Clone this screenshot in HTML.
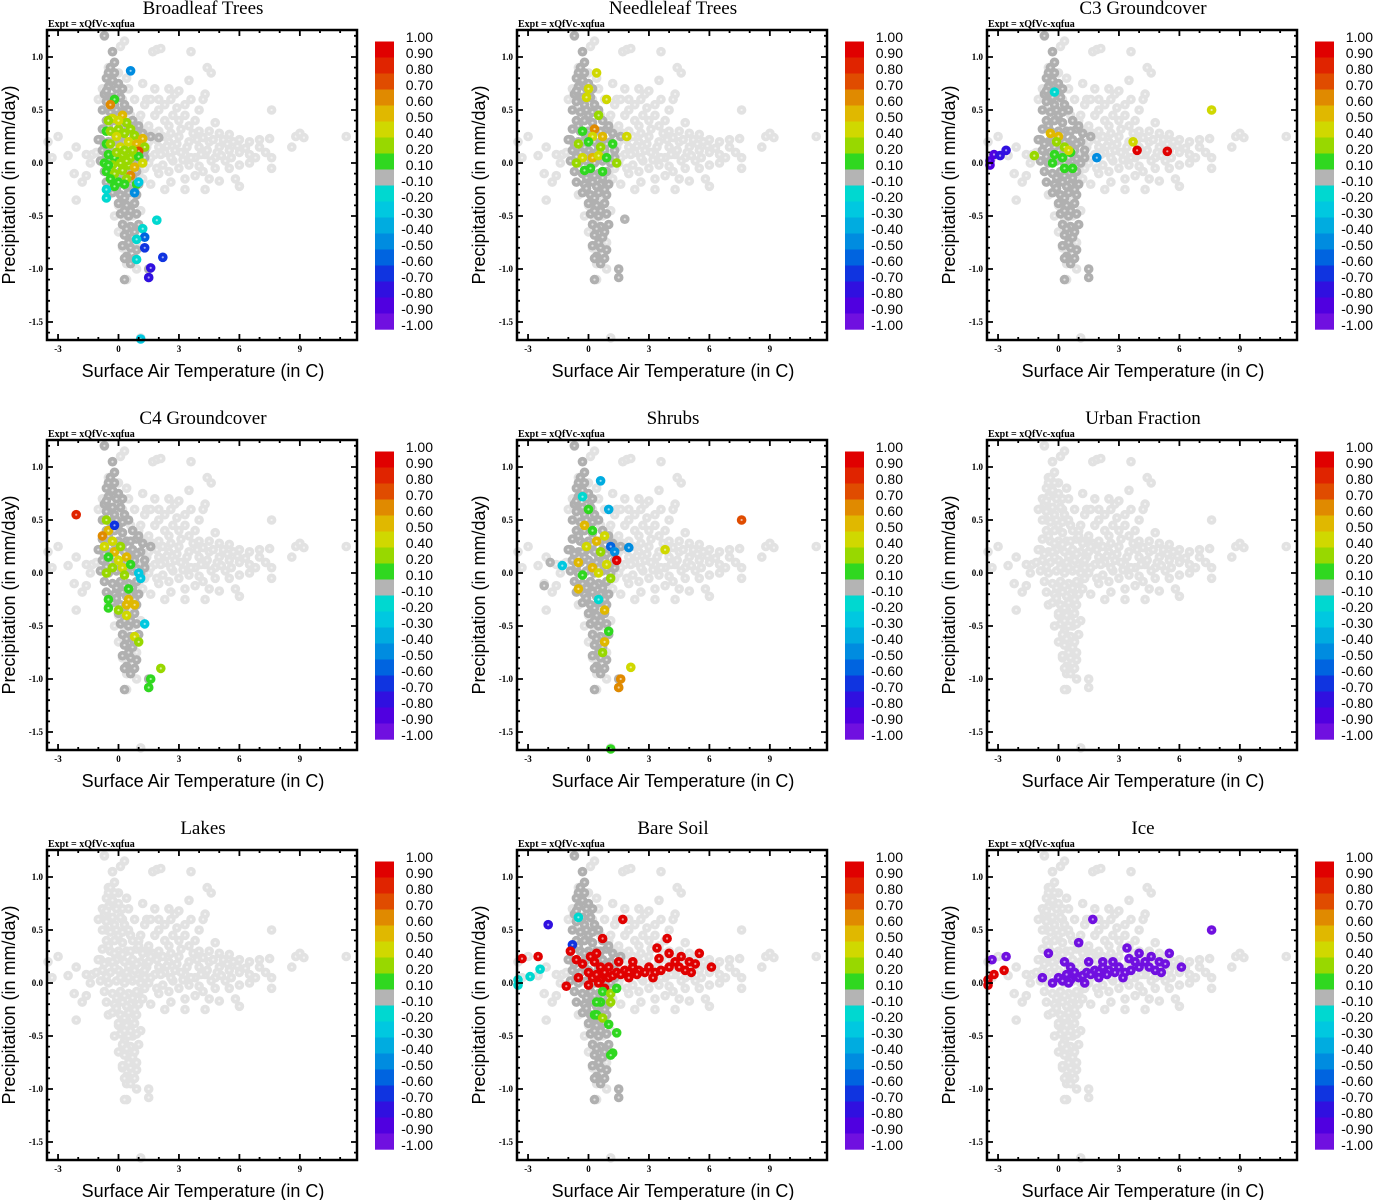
<!DOCTYPE html>
<html><head><meta charset="utf-8">
<style>
html,body{margin:0;padding:0;background:#fff;}
svg{display:block;}
.ttl{font-family:"Liberation Serif",serif;font-size:19px;}
.expt{font-family:"Liberation Serif",serif;font-size:10px;font-weight:bold;}
.tk{font-family:"Liberation Serif",serif;font-size:9px;font-weight:bold;}
.ax{font-family:"Liberation Sans",sans-serif;font-size:18px;}
.cb{font-family:"Liberation Sans",sans-serif;font-size:14px;}
</style></head>
<body>
<svg id="fig" width="1373" height="1200" viewBox="0 0 1373 1200" xmlns="http://www.w3.org/2000/svg"></svg>
<script>
// ---- data ----
const panelTitles = ["Broadleaf Trees","Needleleaf Trees","C3 Groundcover","C4 Groundcover","Shrubs","Urban Fraction","Lakes","Bare Soil","Ice"];
const columnDark = [1,1,1,1,1,0,0,1,0];
const xTicks = [-3,0,3,6,9];
const yTicks = [1.0,0.5,0.0,-0.5,-1.0,-1.5];
const yTickLabels = ["1.0","0.5","0.0","-0.5","-1.0","-1.5"];
const cbLabels = ["1.00","0.90","0.80","0.70","0.60","0.50","0.40","0.20","0.10","-0.10","-0.20","-0.30","-0.40","-0.50","-0.60","-0.70","-0.80","-0.90","-1.00"];
const cbEdges = [1,0.9,0.8,0.7,0.6,0.5,0.4,0.2,0.1,-0.1,-0.2,-0.3,-0.4,-0.5,-0.6,-0.7,-0.8,-0.9,-1.0];
const cbColors = ["#e00000","#e02400","#e04c00","#e08a00","#e0b800","#d0d800","#98d800","#30d820","#b4b4b4","#00d8d0","#00c8e0","#00ace0","#008ce0","#0064e0","#1034e0","#3010e0","#5000e0","#7010e0"];
// light background cloud [T,P]
const cloudPts = [[-0.7,1.2],[-0.3,1.05],[0.1,1.1],[0.3,1.15],[-0.5,0.9],[0,0.85],[0.4,0.8],[-0.8,0.7],[-0.2,0.75],[0.5,0.7],[-1,0.6],[0.2,0.6],[0.8,0.6],[-0.6,0.5],[0.6,0.45],
[1.7,1.05],[1.9,1.07],[2.1,1.08],[3.6,1.05],[4.4,0.9],[4.6,0.85],[3.5,0.78],[2.5,0.7],[2.8,0.65],[3.0,0.68],[4.3,0.65],[4.2,0.6],[1.4,0.6],[1.6,0.6],[2.0,0.6],[2.3,0.55],[2.6,0.6],[3.3,0.55],[4.0,0.5],[7.6,0.5],
[1,0.4],[1.5,0.35],[2,0.3],[2.5,0.35],[3,0.4],[3.5,0.35],[4,0.3],[4.5,0.3],[5,0.28],[5.5,0.27],[6,0.22],[6.5,0.2],[7,0.22],[7.5,0.23],[8.8,0.25],[9,0.28],[9.2,0.24],[8.6,0.15],[7.6,0.05],[7.6,-0.05],
[1.5,0.2],[2,0.15],[2.5,0.2],[3,0.25],[3.5,0.2],[4,0.15],[4.5,0.2],[5,0.15],[5.5,0.12],[6,0.1],[6.5,0.08],[1.2,0.1],[1.8,0.08],[2.3,0.1],[2.8,0.12],[3.3,0.08],[3.8,0.05],[4.3,0.08],[4.8,0.05],[5.3,0.02],[6,-0.02],[6.5,0.0],[1.5,0],[2.2,-0.02],[2.7,0.02],[3.2,0.03],[4,-0.03],
[1.2,-0.15],[2,-0.1],[2.6,-0.18],[3.3,-0.15],[3.8,-0.12],[4.5,-0.15],[5,-0.17],[5.8,-0.15],[4.3,-0.25],[3.3,-0.25],[6,-0.22],
[-3.5,0.2],[-3,0.25],[-2.5,0.07],[-3.3,0.05],[-2.1,0.15],[-1.6,0.08],[-1.3,0.08],[-1.1,0.1],[-2.2,-0.1],[-1.8,-0.18],[-1.6,-0.12],[-2.1,-0.35],[-1.4,0.0],
[-0.5,-0.3],[0,-0.4],[0.4,-0.35],[0.8,-0.3],[-0.2,-0.5],[0.3,-0.55],[0.7,-0.5],[1.1,-0.45],[0,-0.65],[0.5,-0.7],[0.9,-0.75],[0.2,-0.8],[0.7,-0.85],[0.4,-0.95],[0.9,-1.0],[0.4,-1.1],[1.1,-1.65],[11.3,0.25]];
// dense arm fill [T,P]
const armPts = [[1.3,0.3],[1.7,0.28],[2.2,0.25],[2.6,0.28],[3.1,0.32],[3.7,0.28],[4.2,0.24],[4.7,0.22],[5.2,0.22],[5.7,0.2],[1.4,0.15],[1.9,0.22],[2.4,0.16],[2.9,0.18],[3.4,0.15],[3.9,0.22],[4.4,0.12],[4.9,0.1],[5.4,0.18],[5.9,0.16],[6.3,0.14],[1.6,0.05],[2.1,0.08],[2.6,0.05],[3.1,0.1],[3.6,0.05],[4.1,0.08],[4.6,0.02],[5.1,0.07],[5.6,0.05],[1.3,-0.05],[1.9,-0.05],[2.5,-0.08],[3.0,-0.05],[3.5,-0.02],[4.2,-0.08],[4.8,-0.05],[5.5,-0.05],[7.0,0.15],[7.3,0.1],[6.8,0.05],[1.1,0.45],[1.8,0.45],[2.7,0.45],[3.3,0.45],[3.8,0.4],[4.8,0.38],[2.3,0.4],[1.0,-0.1],[1.6,-0.2],[2.3,-0.25],[2.0,0.5],[1.3,0.55],[2.9,0.52],[3.6,0.6],[1.8,0.7],[1.2,0.75]];
// dense column [T,P]
const columnPts = [[-0.4,0.9],[-0.5,0.85],[-0.2,0.85],[-0.6,0.8],[-0.3,0.78],[0,0.75],[-0.5,0.72],[-0.1,0.7],[-0.7,0.65],[-0.3,0.62],[0.1,0.62],[-0.6,0.58],[-0.2,0.55],[0.3,0.55],[-0.8,0.5],[-0.4,0.48],[0,0.45],[0.5,0.5],[-0.6,0.4],[-0.2,0.4],[0.2,0.38],[0.7,0.4],[-0.8,0.32],[-0.4,0.3],[0,0.3],[0.4,0.3],[0.9,0.32],[-0.9,0.22],[-0.5,0.2],[-0.1,0.22],[0.3,0.2],[0.7,0.22],[1.1,0.2],[-0.8,0.12],[-0.4,0.1],[0,0.12],[0.4,0.1],[0.8,0.12],[1.3,0.12],[-0.9,0.02],[-0.5,0.0],[-0.1,0.02],[0.3,0.0],[0.7,0.02],[1.1,0.0],[-0.7,-0.08],[-0.3,-0.1],[0.1,-0.08],[0.5,-0.1],[0.9,-0.08],[-0.6,-0.18],[-0.2,-0.2],[0.2,-0.18],[0.6,-0.2],[1.0,-0.2],[-0.3,-0.28],[0.1,-0.3],[0.5,-0.28],[0.9,-0.3],[0,-0.38],[0.4,-0.4],[0.8,-0.38],[0.1,-0.48],[0.5,-0.5],[0.9,-0.48],[0.2,-0.58],[0.6,-0.6],[1.0,-0.58],[0.3,-0.68],[0.7,-0.7],[0.2,-0.78],[0.6,-0.8],[0.9,-0.82],[0.4,-0.88],[0.8,-0.9],[1.5,-1.0],[1.5,-1.08],[0.3,-1.1],[-1,0.22],[1.6,0.25],[1.0,0.35],[-0.7,1.2],[-0.3,1.05],
[-0.6,0.68],[-0.1,0.5],[0.2,0.48],[-0.5,0.35],[0.6,0.3],[-0.2,0.28],[0.2,0.27],[-0.7,0.18],[0.5,0.16],[0.9,0.18],[-0.2,0.15],[0.1,0.05],[-0.6,0.06],[0.5,0.05],[0.9,0.04],[-0.1,-0.14],[0.3,-0.12],[0.7,-0.14],[-0.1,-0.24],[0.4,-0.22],[0.8,-0.25],[0.3,-0.33],[0.6,-0.45],[0.3,-0.45],[0.4,-0.62],[0.8,-0.65],[0.5,-0.75],[0.3,-0.9],[0.6,-0.95],[-0.2,0.95],[0.2,0.7],[1.2,0.28],[1.3,0.05],[-0.3,0.2]];
// per-panel coloured points [T,P,value]
const broadleafPts = [[0.6,0.87,-0.5],[-0.2,0.6,0.15],[-0.4,0.55,0.6],[-0.6,0.3,0.15],[-0.6,0.18,0.15],[-0.3,0.42,0.4],[0.2,0.45,0.5],[0.4,0.38,0.3],[0,0.32,0.35],[-0.4,0.3,0.3],[0.3,0.28,0.2],[0.8,0.26,0.35],[1.2,0.23,0.5],[0.1,0.15,0.4],[0.5,0.2,0.45],[0.9,0.18,0.55],[1.3,0.15,0.3],[1.0,0.11,0.7],[-0.5,0.08,0.15],[-0.2,0.05,0.15],[0.2,0.08,0.25],[0.6,0.05,0.2],[1.0,0.06,0.15],[1.2,0.0,0.4],[-0.7,0.0,0.15],[-0.3,-0.02,0.2],[0.1,0.0,0.3],[0.5,-0.02,0.25],[0.8,-0.04,0.5],[-0.6,-0.08,0.15],[-0.2,-0.1,0.2],[0.2,-0.07,0.3],[0.6,-0.12,0.6],[-0.4,-0.15,0.15],[0,-0.18,0.15],[-0.2,-0.22,0.15],[0.4,-0.15,0.2],[0.9,-0.2,0.15],[1.0,-0.18,-0.3],[0.8,-0.28,-0.5],[-0.6,-0.25,-0.2],[-0.6,-0.33,-0.2],[1.9,-0.54,-0.2],[1.2,-0.62,-0.2],[1.3,-0.7,-0.6],[1.3,-0.8,-0.7],[0.9,-0.72,-0.2],[0.9,-0.91,-0.2],[2.2,-0.89,-0.7],[1.6,-0.99,-0.8],[1.5,-1.08,-0.8],[1.1,-1.66,-0.3],[2.0,0.24,-0.05],
[-0.5,0.4,0.3],[0.0,0.4,0.4],[-0.1,0.25,0.45],[0.6,0.32,0.3],[-0.4,0.18,0.2],[0.3,0.12,0.35],[0.7,0.12,0.3],[-0.1,0.1,0.25],[0.4,0.02,0.3],[-0.5,-0.02,0.15],[0.3,-0.2,0.15]];
const needleleafPts = [[0,0.7,0.45],[0.4,0.85,0.45],[-0.1,0.62,0.4],[0.9,0.6,0.4],[0.5,0.45,0.3],[-0.3,0.3,0.15],[0.3,0.32,0.6],[0.2,0.25,0.4],[0.7,0.25,0.5],[1.9,0.25,0.4],[-0.5,0.18,0.3],[0,0.2,0.15],[0.6,0.15,0.35],[1.2,0.18,0.15],[-0.3,0.05,0.4],[0.2,0.05,0.5],[0.5,0.07,0.45],[0.9,0.05,0.15],[-0.6,0.0,0.2],[0.1,-0.05,0.15],[-0.2,-0.07,0.15],[0.7,-0.08,0.15],[1.4,0.0,0.2],[1.8,-0.53,0]];
const c3Pts = [[-3.4,0.02,-0.9],[-3.2,0.08,-0.9],[-2.9,0.07,-0.8],[-2.6,0.12,-0.8],[-3.4,-0.02,-0.9],[-1.2,0.07,0.2],[-0.2,0.67,-0.2],[-0.4,0.28,0.5],[0,0.25,0.5],[-0.1,0.2,0.3],[0.3,0.15,0.2],[-0.2,0.08,0.15],[0.2,0.05,0.15],[0.6,0.1,0.15],[-0.3,0.0,0.15],[0.3,-0.05,0.15],[0.7,-0.05,0.15],[0.5,0.12,0.4],[1.9,0.05,-0.5],[3.7,0.2,0.4],[3.9,0.12,0.95],[5.4,0.11,0.95],[7.6,0.5,0.4]];
const c4Pts = [[-2.1,0.55,0.8],[-0.6,0.5,0.3],[-0.5,0.4,0.5],[-0.8,0.35,0.6],[-0.3,0.3,0.4],[-0.7,0.25,0.4],[-0.2,0.2,0.5],[0.1,0.25,0.3],[-0.5,0.15,0.15],[0,0.12,0.4],[0.4,0.15,0.5],[-0.3,0.05,0.3],[0.2,0.05,0.4],[0.6,0.08,0.15],[-0.6,0,0.3],[0.3,-0.02,0.3],[1.0,0.0,-0.3],[1.1,-0.05,-0.3],[0.5,-0.15,0.15],[-0.5,-0.25,0.15],[-0.5,-0.33,0.15],[0.5,-0.25,0.5],[0.4,-0.3,0.5],[0.8,-0.3,0.5],[0,-0.35,0.3],[0.4,-0.4,0.4],[1.3,-0.48,-0.3],[0.8,-0.6,0.4],[1.0,-0.65,0.2],[2.1,-0.9,0.3],[1.6,-1.0,0.15],[1.5,-1.08,0.15],[-0.2,0.45,-0.7]];
const shrubPts = [[0.6,0.87,-0.4],[-0.3,0.72,-0.2],[1.0,0.6,-0.4],[0,0.6,0.15],[-0.2,0.45,0.5],[0.2,0.4,0.15],[0.8,0.35,0.45],[0.4,0.3,0.5],[1.1,0.25,-0.6],[2.0,0.24,-0.5],[3.8,0.22,0.4],[7.6,0.5,0.75],[-0.1,0.25,0.4],[0.6,0.2,0.3],[1.3,0.2,-0.5],[1.4,0.12,0.95],[-1.3,0.07,-0.3],[-0.5,0.1,0.5],[0.2,0.05,0.5],[0.9,0.08,0.4],[-0.3,-0.02,0.15],[0.5,0,0.4],[1.1,-0.05,0.3],[-0.5,-0.15,0.5],[0.5,-0.25,-0.2],[0.8,-0.35,0.5],[1.0,-0.55,0.15],[0.8,-0.65,0.5],[0.7,-0.75,0.2],[2.1,-0.89,0.4],[1.6,-1.0,0.6],[1.5,-1.08,0.6],[1.1,-1.66,0.15],[-1.9,0.1,-0.05],[-2.2,-0.12,-0.05]];
const urbanPts = [];
const lakePts = [];
const bareSoilPts = [[-3.5,0.03,-0.2],[-3.5,-0.02,-0.2],[-2.9,0.06,-0.2],[-2.4,0.13,-0.2],[-3.3,0.23,0.95],[-2.5,0.25,0.95],[-2.0,0.55,-0.8],[-0.8,0.36,-0.7],[-0.5,0.62,-0.2],[-1.1,-0.03,0.95],[-0.9,0.3,0.95],[-0.6,0.22,0.95],[1.7,0.6,0.95],[3.9,0.42,0.95],[0.7,0.42,0.95],
[0,0.1,0.95],[0.2,0.05,0.95],[0.4,0.08,0.95],[0.6,0.03,0.95],[0.8,0.1,0.95],[1.0,0.05,0.95],[1.2,0.07,0.95],[1.4,0.1,0.95],[1.6,0.08,0.95],[1.8,0.12,0.95],[2,0.1,0.95],[2.2,0.15,0.95],[2.5,0.12,0.95],[2.8,0.1,0.95],[3,0.15,0.95],[3.3,0.1,0.95],[3.6,0.12,0.95],[4,0.15,0.95],[4.3,0.2,0.95],[4.6,0.25,0.95],[5,0.2,0.95],[5.3,0.18,0.95],[5.5,0.28,0.95],[6.1,0.15,0.95],[3.4,0.33,0.95],[3.5,0.23,0.95],[4.0,0.28,0.95],[2.2,0.2,0.95],[1.5,0.2,0.95],[0.3,0.2,0.95],[-0.3,0.18,0.95],[-0.5,0.05,0.95],[0,-0.02,0.95],[0.5,0.0,0.95],[0.8,-0.05,0.95],[1,0.15,0.95],[2,0.05,0.95],[3.2,0.05,0.95],[2.4,0.08,0.95],[4.8,0.12,0.95],[5.1,0.1,0.95],[4.5,0.15,0.95],[0.1,0.25,0.95],[0.4,0.28,0.95],[0.6,0.15,0.95],
[0.7,-0.08,0.15],[0.6,-0.18,0.15],[0.4,-0.18,0.15],[1.1,-0.1,0.3],[1.1,-0.18,0.3],[0.3,-0.3,0.15],[0.4,-0.3,0.15],[0.7,-0.33,0.3],[1.0,-0.39,0.15],[1.4,-0.47,0.15],[1.2,-0.66,0.15],[1.1,-0.68,0.15],[1.4,-0.05,0.15]];
const icePts = [[-3.5,0.03,0.95],[-3.5,-0.02,0.95],[-3.2,0.08,0.95],[-2.7,0.12,0.95],[-3.3,0.22,-0.95],[-2.6,0.25,-0.95],[1.7,0.6,-0.95],[1.0,0.38,-0.95],[7.6,0.5,-0.95],[-0.5,0.28,-0.95],[-0.8,0.05,-0.95],
[0,0.05,-0.95],[0.2,0.02,-0.95],[0.4,0.08,-0.95],[0.6,0.03,-0.95],[0.8,0.1,-0.95],[1.0,0.05,-0.95],[1.2,0.07,-0.95],[1.4,0.1,-0.95],[1.6,0.08,-0.95],[1.8,0.12,-0.95],[2,0.1,-0.95],[2.2,0.15,-0.95],[2.5,0.12,-0.95],[2.8,0.1,-0.95],[3,0.15,-0.95],[3.3,0.1,-0.95],[3.6,0.12,-0.95],[4,0.15,-0.95],[4.3,0.2,-0.95],[4.6,0.25,-0.95],[5,0.2,-0.95],[5.3,0.18,-0.95],[5.5,0.28,-0.95],[6.1,0.15,-0.95],[3.4,0.33,-0.95],[3.5,0.23,-0.95],[4.0,0.28,-0.95],[2.2,0.2,-0.95],[1.5,0.2,-0.95],[0.3,0.2,-0.95],[-0.3,0.0,-0.95],[0.5,0.0,-0.95],[2,0.05,-0.95],[3.2,0.05,-0.95],[2.4,0.08,-0.95],[4.8,0.12,-0.95],[5.1,0.1,-0.95],[4.5,0.15,-0.95],[0.6,0.15,-0.95],[1.3,0.0,-0.95],[2.7,0.2,-0.95],[3.8,0.2,-0.95]];
const panelPts = [broadleafPts,needleleafPts,c3Pts,c4Pts,shrubPts,urbanPts,lakePts,bareSoilPts,icePts];

// ---- drawing ----
const NS="http://www.w3.org/2000/svg";
const fig=document.getElementById('fig');
function mk(tag,attrs,parent){const e=document.createElementNS(NS,tag);for(const k in attrs)e.setAttribute(k,attrs[k]);(parent||fig).appendChild(e);return e;}
const PL=47,PR=357,PT=30,PB=340;
function xs(t){return 118.5+t*20.15;}
function ys(p){return 163-p*106;}
function colorOf(v){for(let i=0;i<cbColors.length;i++){if(v>=cbEdges[i+1])return cbColors[i];}return cbColors[cbColors.length-1];}
function dot(g,t,p,fill,name){
  const c=mk('circle',{cx:xs(t).toFixed(1),cy:ys(p).toFixed(1),r:4.8,fill:fill},g);
  
  
  const h=mk('circle',{cx:xs(t).toFixed(1),cy:ys(p).toFixed(1),r:1.1,fill:'#ffffff','fill-opacity':0.6},g);
  
  
}
panelTitles.forEach((title,idx)=>{
  const ox=(idx%3)*470, oy=Math.floor(idx/3)*410;
  const g=mk('g',{transform:`translate(${ox},${oy})`});
  
  
  const tt=mk('text',{x:203,y:14,'text-anchor':'middle',class:'ttl'},g);tt.textContent=title;
  
  
  const ex=mk('text',{x:48,y:27,class:'expt'},g);ex.textContent='Expt = xQfVc-xqfua';
  
  
  const clip='clip'+idx;
  const cp=mk('clipPath',{id:clip},g);mk('rect',{x:PL-5,y:PT-5,width:PR-PL+10,height:PB-PT+10},cp);
  const pg=mk('g',{'clip-path':`url(#${clip})`},g);
  
  
  cloudPts.forEach(pt=>dot(pg,pt[0],pt[1],'#e2e2e2','background-point'));
  armPts.forEach(pt=>dot(pg,pt[0],pt[1],'#e2e2e2','background-point'));
  const colFill=columnDark[idx]?'#b0b0b0':'#e2e2e2';
  columnPts.forEach(pt=>dot(pg,pt[0],pt[1],colFill,'column-point'));
  panelPts[idx].forEach(pt=>dot(pg,pt[0],pt[1],colorOf(pt[2]),'value-point'));
  const fr=mk('rect',{x:PL,y:PT,width:PR-PL,height:PB-PT,fill:'none',stroke:'#000','stroke-width':2.5},g);
  
  
  let d='';
  for(let t=-3;t<=11;t++){const x=xs(t);const L=(t%3===0)?6:3;d+=`M${x},${PB}v${-L}M${x},${PT}v${L}`;}
  for(let k=-16;k<=12;k++){const y=ys(k/10);const L=(k%5===0)?6:3;d+=`M${PL},${y}h${L}M${PR},${y}h${-L}`;}
  const tk=mk('path',{d:d,stroke:'#000','stroke-width':1.8,fill:'none'},g);
  
  
  xTicks.forEach(t=>{const e=mk('text',{x:xs(t),y:352,'text-anchor':'middle',class:'tk'},g);e.textContent=String(t);
    
    });
  yTicks.forEach((p,i)=>{const e=mk('text',{x:43,y:ys(p)+3,'text-anchor':'end',class:'tk'},g);e.textContent=yTickLabels[i];
    
    });
  const xl=mk('text',{x:203,y:377,'text-anchor':'middle',class:'ax'},g);xl.textContent='Surface Air Temperature (in C)';
  
  
  const yl=mk('text',{x:0,y:0,'text-anchor':'middle',class:'ax',transform:'translate(15,185) rotate(-90)'},g);yl.textContent='Precipitation (in mm/day)';
  
  
  cbColors.forEach((c,i)=>{const r=mk('rect',{x:375,y:41.5+i*16,width:19,height:16.2,fill:c},g);
    
    });
  cbLabels.forEach((l,i)=>{const e=mk('text',{x:433,y:42+i*16,'text-anchor':'end',class:'cb'},g);e.textContent=l;
    
    });
});
</script>
</body></html>
